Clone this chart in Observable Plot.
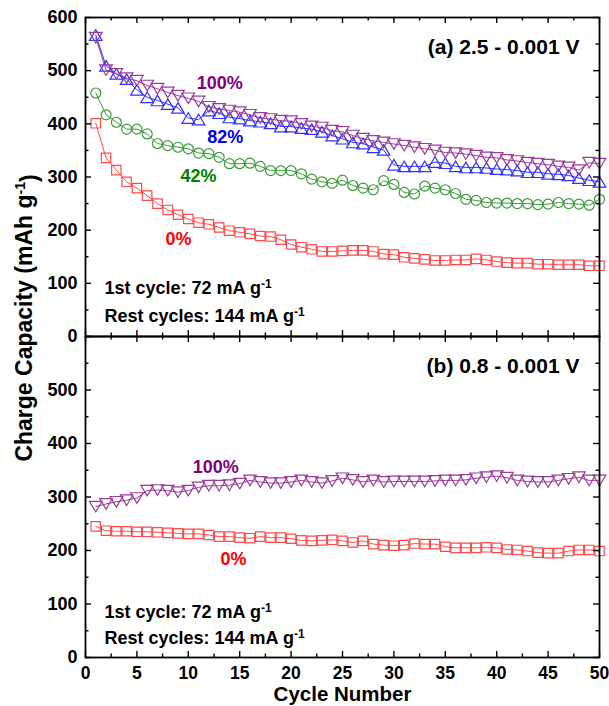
<!DOCTYPE html>
<html><head><meta charset="utf-8">
<script src="https://cdn.jsdelivr.net/npm/d3@7"></script>
<script src="https://cdn.jsdelivr.net/npm/@observablehq/plot@0.6"></script>
<style>
body{margin:0;background:#fff;}
#chart{position:relative;width:609px;height:706px;font-family:'Liberation Sans',Arial,sans-serif;}
#chart svg{display:block}
</style></head><body><div id="chart"></div>
<script>
// ---------- data ----------
const cycles = [1,2,3,4,5,6,7,8,9,10,11,12,13,14,15,16,17,18,19,20,21,22,23,24,25,26,27,28,29,30,31,32,33,34,35,36,37,38,39,40,41,42,43,44,45,46,47,48,49,50];

// panel (a) 2.5 - 0.001 V
const a0 = [401,336,313,291,279,265,250,238,229,221,214,211,205,199,196,193,189,188,182,173,168,164,160,160,161,162,162,160,155,154,149,147,145,143,143,144,144,146,144,141,139,138,138,136,136,135,135,135,133,133];
const a42 = [458,417,403,390,390,381,363,359,356,353,345,344,337,325,325,326,320,312,312,312,306,296,291,288,294,284,279,276,293,286,271,268,283,279,276,269,258,256,252,251,251,250,250,248,249,252,250,249,247,258];
const a82 = [567,509,494,484,464,450,444,437,430,411,408,425,420,412,410,406,404,401,395,395,392,390,385,378,372,365,363,356,351,323,320,320,320,328,326,320,318,318,317,315,314,312,309,309,306,305,303,298,294,291];
const a100 = [562,501,494,486,481,472,466,459,453,448,442,432,428,425,422,417,411,409,406,405,400,395,393,387,385,378,372,368,365,362,359,356,353,350,346,345,343,340,337,336,332,330,327,325,323,320,318,313,327,325];

// panel (b) 0.8 - 0.001 V
const b0 = [245,237,236,236,235,235,234,233,232,231,231,229,226,226,224,223,226,224,224,222,219,218,219,220,218,215,218,212,210,209,210,213,212,212,207,205,205,205,206,205,202,201,199,196,195,195,199,201,201,199];
const b100 = [282,287,291,294,298,312,313,312,309,312,318,321,321,322,325,331,328,326,326,328,331,328,326,330,335,332,328,331,328,329,329,329,329,330,331,331,332,335,337,339,336,331,329,328,328,331,334,337,331,331];

// tick values
const yLabelsA = [0,100,200,300,400,500,600];
const yLabelsB = [0,100,200,300,400,500];
const yMajor = [0,100,200,300,400,500,600];
const yMinor = [50,150,250,350,450,550];
const xMajor = [0,5,10,15,20,25,30,35,40,45,50];
const xMinor = [2.5,7.5,12.5,17.5,22.5,27.5,32.5,37.5,42.5,47.5];

// labels
const titleA = "(a) 2.5 - 0.001 V";
const titleB = "(b) 0.8 - 0.001 V";
const rate1 = "1st cycle: 72 mA g";
const rate2 = "Rest cycles: 144 mA g";
const pctA = [
  {x: 13.05, y: 477, text: "100%", key: "100"},
  {x: 13.6, y: 374, text: "82%", key: "82"},
  {x: 11.0, y: 302, text: "42%", key: "42"},
  {x: 9.05, y: 183, text: "0%", key: "0"}
];
const pctB = [
  {x: 12.67, y: 355, text: "100%", key: "100"},
  {x: 14.4, y: 184, text: "0%", key: "0"}
];

// ---------- styles ----------
const markColor = {"0": "#ff4a4a", "42": "#3a9a3a", "82": "#3030ff", "100": "#9a3c9a"};
const textColor = {"0": "#ff0000", "42": "#008000", "82": "#0000f0", "100": "#800080"};
const sym = {
  "0": {draw(c){ const s = 4.7; c.rect(-s, -s, 2*s, 2*s); }},
  "42": {draw(c){ const r = 5; c.moveTo(r, 0); c.arc(0, 0, r, 0, 2*Math.PI); }},
  "82": {draw(c){ const w = 6.3, h = 5.3; c.moveTo(0, -h); c.lineTo(w, h); c.lineTo(-w, h); c.closePath(); }},
  "100": {draw(c){ const w = 6.3, h = 5.3; c.moveTo(0, h); c.lineTo(w, -h); c.lineTo(-w, -h); c.closePath(); }}
};

const W = 609, ML = 85, MR = 10;
const innerW = W - ML - MR;
const FONT = "'Liberation Sans', Arial, sans-serif";

function rows(key, values) {
  return values.map((v, i) => ({cycle: cycles[i], value: v, key}));
}

function panel({height, marginTop, marginBottom, series, pct, title, yLabels, xAxis, rateDy}) {
  const innerH = height - marginTop - marginBottom;
  const marks = [];
  for (const [key, vals] of series) {
    marks.push(Plot.line(rows(key, vals), {x: "cycle", y: "value", stroke: markColor[key], strokeWidth: 1}));
  }
  for (const [key, vals] of series) {
    marks.push(Plot.dot(rows(key, vals), {x: "cycle", y: "value", symbol: sym[key], stroke: markColor[key], fill: "none", strokeWidth: 1.2}));
  }
  // inward ticks
  const tk = {stroke: "black", strokeWidth: 1.4};
  marks.push(
    Plot.tickY(yMajor, {y: d => d, insetRight: innerW - 6, ...tk}),
    Plot.tickY(yMajor, {y: d => d, insetLeft: innerW - 6, ...tk}),
    Plot.tickY(yMinor, {y: d => d, insetRight: innerW - 3.5, ...tk}),
    Plot.tickY(yMinor, {y: d => d, insetLeft: innerW - 3.5, ...tk}),
    Plot.tickX(xMajor, {x: d => d, insetBottom: innerH - 6, ...tk}),
    Plot.tickX(xMajor, {x: d => d, insetTop: innerH - 6, ...tk}),
    Plot.tickX(xMinor, {x: d => d, insetBottom: innerH - 3.5, ...tk}),
    Plot.tickX(xMinor, {x: d => d, insetTop: innerH - 3.5, ...tk}),
    Plot.frame({stroke: "black", strokeWidth: 1.8})
  );
  marks.push(Plot.axisY(yLabels, {tickSize: 0, tickPadding: 8, fontSize: 18, fontWeight: "bold", label: null}));
  if (xAxis) {
    marks.push(Plot.axisX(xMajor, {tickSize: 0, tickPadding: 9, fontSize: 17.5, fontWeight: "bold", label: null}));
    marks.push(Plot.text(["Cycle Number"], {text: d => d, frameAnchor: "bottom", dy: 37, lineAnchor: "middle", fontSize: 20.5, fontWeight: "bold", fill: "black"}));
  }
  marks.push(Plot.text([title], {text: d => d, frameAnchor: "top-right", dx: -20, dy: 30, textAnchor: "end", lineAnchor: "middle", fontSize: 21, fontWeight: "bold", fill: "black"}));
  marks.push(Plot.text([rate1], {text: d => d, frameAnchor: "bottom-left", dx: 19, dy: rateDy[0], textAnchor: "start", lineAnchor: "middle", fontSize: 18, fontWeight: "bold", fill: "black"}));
  marks.push(Plot.text([rate2], {text: d => d, frameAnchor: "bottom-left", dx: 19, dy: rateDy[1], textAnchor: "start", lineAnchor: "middle", fontSize: 18, fontWeight: "bold", fill: "black"}));
  marks.push(Plot.text(pct, {x: "x", y: "y", text: "text", fill: d => textColor[d.key], fontSize: 18, fontWeight: "bold", textAnchor: "middle", lineAnchor: "middle"}));
  const svg = Plot.plot({
    width: W, height, marginTop, marginBottom, marginLeft: ML, marginRight: MR,
    x: {domain: [0, 50], axis: null, label: null},
    y: {domain: [0, 600], label: null},
    style: {fontFamily: FONT, background: "white", overflow: "visible", color: "black"},
    marks
  });
  // superscript "-1" after the unit g
  d3.select(svg).selectAll("text")
    .filter(function(){ return this.textContent === rate1 || this.textContent === rate2; })
    .append("tspan").attr("dy", "-0.5em").attr("font-size", "12px").text("-1");
  return svg;
}

const root = d3.select("#chart");
const panelA = panel({
  height: 336, marginTop: 17, marginBottom: 0,
  series: [["0", a0], ["42", a42], ["82", a82], ["100", a100]],
  pct: pctA, title: titleA, yLabels: yLabelsA, xAxis: false, rateDy: [-48, -20]
});
const panelB = panel({
  height: 370, marginTop: 0, marginBottom: 49,
  series: [["0", b0], ["100", b100]],
  pct: pctB, title: titleB, yLabels: yLabelsB, xAxis: true, rateDy: [-45, -19]
});
root.node().appendChild(panelA);
root.node().appendChild(panelB);

// shared y-axis title
const ov = root.append("svg").attr("width", W).attr("height", 706)
  .style("position", "absolute").style("left", "0px").style("top", "0px")
  .style("overflow", "visible").style("pointer-events", "none");
const yt = ov.append("text")
  .attr("transform", "translate(32,318) rotate(-90)")
  .attr("text-anchor", "middle")
  .attr("font-family", FONT).attr("font-weight", "bold").attr("font-size", 23).attr("fill", "black");
yt.append("tspan").text("Charge Capacity (mAh g");
yt.append("tspan").attr("dy", "-0.5em").attr("font-size", "14px").text("-1");
yt.append("tspan").attr("dy", "0.5em").text(")");
</script></body></html>
